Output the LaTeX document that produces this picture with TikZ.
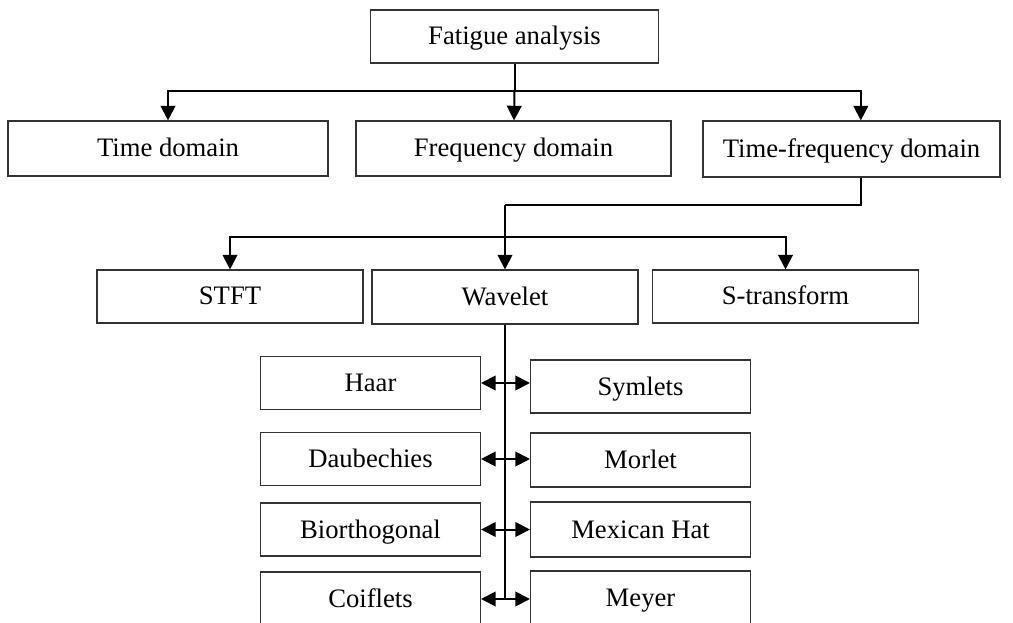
\documentclass[tikz,border=0pt]{standalone}
\usepackage{fontspec}
\setmainfont{Liberation Serif}
\usetikzlibrary{arrows.meta}

\begin{document}
\begin{tikzpicture}[
      x=0.75pt, y=-0.75pt,
      every node/.style={inner sep=0pt,text height=17pt,text depth=4.25pt,font=\fontsize{20}{23}\selectfont},
      box/.style={draw=black!80,line width=0.8pt,minimum height=39.75pt},
      small/.style={box,minimum width=165pt},
      link/.style={line width=1.5pt},
      arr/.style={link,-{Triangle[length=11pt,width=11pt]}},
      both/.style={link,{Triangle[length=11pt,width=11pt]}-{Triangle[length=11pt,width=11pt]}}
    ]
      \useasboundingbox (0,0) rectangle (1013,623);
      \clip (0,0) rectangle (1013,623);

      % top level
      \node[box,minimum width=216pt] (fat) at (514.5,36.5) {Fatigue analysis};
      \node[box,minimum width=240pt,minimum height=41.25pt] (time) at (168,148.5) {Time domain};
      \node[box,minimum width=236.25pt,minimum height=41.25pt] (freq) at (513.5,148.5) {Frequency domain};
      \node[box,minimum width=222.75pt,minimum height=42pt] (tfd) at (851.5,149) {Time-frequency domain};

      % time-frequency methods
      \node[box,minimum width=199.5pt] (stft) at (230,296.5) {STFT};
      \node[box,minimum width=199.5pt,minimum height=40.5pt] (wav) at (505,297) {Wavelet};
      \node[box,minimum width=199pt] (strans) at (785.5,296.5) {S-transform};

      % wavelet families
      \node[small] (haar) at (370.5,383) {Haar};
      \node[small] (sym) at (640.5,386.5) {Symlets};
      \node[small] (daub) at (370.5,459) {Daubechies};
      \node[small,minimum height=40.5pt] (morlet) at (640.5,460) {Morlet};
      \node[small] (bior) at (370.5,529.5) {Biorthogonal};
      \node[small,minimum height=41.25pt] (mex) at (640.5,529.5) {Mexican Hat};
      \node[small,minimum height=40.5pt] (coif) at (370.5,599) {Coiflets};
      \node[small,minimum height=40.5pt] (meyer) at (640.5,598) {Meyer};

      \coordinate (j1) at (514.5,91);
      \coordinate (j2) at (505,205);
      \coordinate (j3) at (505,237);

      \draw[link] (fat) -- (j1);
      \draw[arr] (j1) -| (time);
      \draw[arr] (j1) -- (freq);
      \draw[arr] (j1) -| ([xshift=7pt]tfd.north);

      \draw[link] ([xshift=7pt]tfd.south) |- (j2);
      \draw[arr] (j2) -- (wav);
      \draw[arr] (j3) -| (stft);
      \draw[arr] (j3) -| (strans);

      \draw[link] (wav.south) -- (wav.south |- coif.east);
      \draw[both] (haar.east) -- (haar.east -| sym.west);
      \draw[both] (daub.east) -- (daub.east -| morlet.west);
      \draw[both] (bior.east) -- (bior.east -| mex.west);
      \draw[both] (coif.east) -- (coif.east -| meyer.west);
    \end{tikzpicture}
\end{document}
